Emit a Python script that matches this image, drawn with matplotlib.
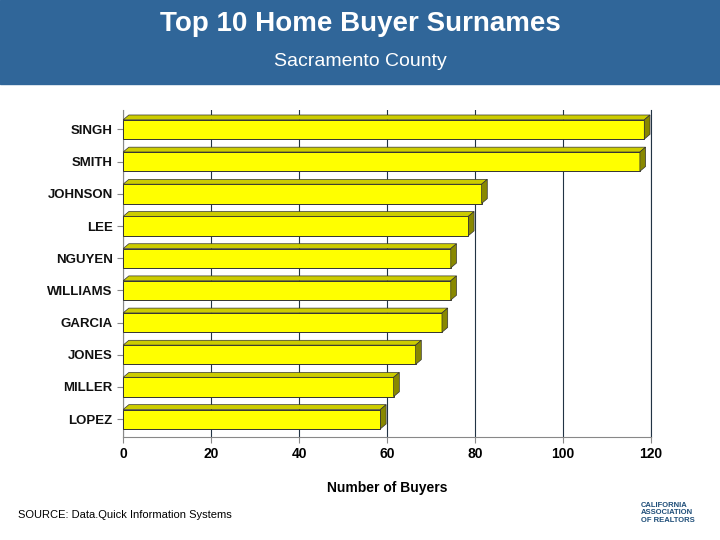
import matplotlib.pyplot as plt
from matplotlib.patches import Polygon

names = ['SINGH', 'SMITH', 'JOHNSON', 'LEE', 'NGUYEN', 'WILLIAMS', 'GARCIA', 'JONES', 'MILLER', 'LOPEZ']
buyers = [118.5, 117.5, 81.5, 78.5, 74.5, 74.5, 72.5, 66.5, 61.5, 58.5]
xticks = [0, 20, 40, 60, 80, 100, 120]

plt.rcParams['font.family'] = ['Liberation Sans', 'DejaVu Sans']
fig = plt.figure(figsize=(7.2, 5.4), dpi=100)

# header band
fig.patches.append(plt.Rectangle((0, 0.845), 1, 0.155, transform=fig.transFigure,
                                 color='#306699', zorder=0))
fig.text(0.5, 0.955, 'Top 10 Home Buyer Surnames', ha='center', va='center',
         color='white', fontsize=20, fontweight='bold')
fig.text(0.5, 0.886, 'Sacramento County', ha='center', va='center',
         color='white', fontsize=14)

ax = fig.add_axes([0.171, 0.191, 0.733, 0.605])
y = list(range(len(names)))[::-1]
h = 0.6
dx, dy = 1.3, 0.15
for yi, v in zip(y, buyers):
    ax.barh(yi, v, height=h, color='#FFFF00', edgecolor='#333333', linewidth=0.7, zorder=3)
    top = Polygon([(0, yi + h / 2), (v, yi + h / 2), (v + dx, yi + h / 2 + dy), (dx, yi + h / 2 + dy)],
                  closed=True, facecolor='#CCCC00', edgecolor='#333333', linewidth=0.5, zorder=3)
    side = Polygon([(v, yi - h / 2), (v + dx, yi - h / 2 + dy), (v + dx, yi + h / 2 + dy), (v, yi + h / 2)],
                   closed=True, facecolor='#888800', edgecolor='#333333', linewidth=0.5, zorder=3)
    ax.add_patch(top)
    ax.add_patch(side)

ax.set_xlim(0, 120)
ax.set_ylim(-0.55, 9.6)
ax.set_xticks(xticks)
ax.set_yticks(y)
ax.set_yticklabels(names, fontweight='bold', fontsize=9.5, color='#111111')
ax.set_xticklabels([str(t) for t in xticks], fontweight='bold', fontsize=10)
ax.xaxis.grid(True, color='#223344', linewidth=0.8, zorder=0)
ax.axvline(xticks[-1], color='#223344', linewidth=0.8, zorder=0, clip_on=False)
for s in ['top', 'right']:
    ax.spines[s].set_visible(False)
ax.spines['left'].set_color('#888888')
ax.spines['bottom'].set_color('#888888')
ax.tick_params(axis='both', length=4, color='#888888')
ax.set_xlabel('Number of Buyers', fontweight='bold', fontsize=10, labelpad=14)

fig.text(0.025, 0.046, 'SOURCE: Data.Quick Information Systems', fontsize=8, va='center')
fig.text(0.89, 0.05, 'CALIFORNIA\nASSOCIATION\nOF REALTORS', fontsize=5.5, fontweight='bold',
         color='#1F4E79', va='center', linespacing=1.1)

fig.savefig('out.png', dpi=100)
